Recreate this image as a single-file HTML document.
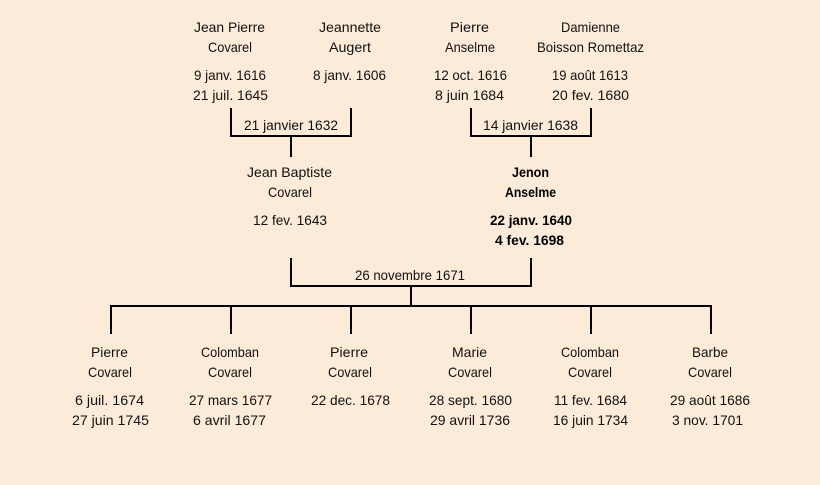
<!DOCTYPE html>
<html lang="fr">
<head>
<meta charset="utf-8">
<title>Arbre généalogique</title>
<style>
html,body{margin:0;padding:0;background:#fcebd9;width:820px;height:485px;overflow:hidden}
svg{display:block}
text{font-family:"Comic Sans MS","Comic Sans","Liberation Sans",sans-serif;font-size:14px;fill:#111}
.b{font-weight:bold;fill:#000}
path{fill:none;stroke:#000;stroke-width:2}
</style>
</head>
<body>
<svg width="820" height="485" viewBox="0 0 820 485" lengthAdjust="spacingAndGlyphs">
<path d="M231 108V136H351V108M291 136V157"/>
<path d="M471 108V136H591V108M531 136V157"/>
<path d="M291 258V286H531V258M411 286V306"/>
<path d="M111 334V306H711V334M231 306V334M351 306V334M471 306V334M591 306V334"/>

<text x="194" y="32" textLength="71" lengthAdjust="spacingAndGlyphs">Jean Pierre</text>
<text x="208" y="52" textLength="44" lengthAdjust="spacingAndGlyphs">Covarel</text>
<text x="194" y="80" textLength="72" lengthAdjust="spacingAndGlyphs">9 janv. 1616</text>
<text x="193" y="100" textLength="75" lengthAdjust="spacingAndGlyphs">21 juil. 1645</text>

<text x="319" y="32" textLength="62" lengthAdjust="spacingAndGlyphs">Jeannette</text>
<text x="329" y="52" textLength="42" lengthAdjust="spacingAndGlyphs">Augert</text>
<text x="313" y="80" textLength="73" lengthAdjust="spacingAndGlyphs">8 janv. 1606</text>

<text x="450" y="32" textLength="39" lengthAdjust="spacingAndGlyphs">Pierre</text>
<text x="445" y="52" textLength="50" lengthAdjust="spacingAndGlyphs">Anselme</text>
<text x="434" y="80" textLength="73" lengthAdjust="spacingAndGlyphs">12 oct. 1616</text>
<text x="435" y="100" textLength="69" lengthAdjust="spacingAndGlyphs">8 juin 1684</text>

<text x="561" y="32" textLength="59" lengthAdjust="spacingAndGlyphs">Damienne</text>
<text x="537" y="52" textLength="107" lengthAdjust="spacingAndGlyphs">Boisson Romettaz</text>
<text x="552" y="80" textLength="76" lengthAdjust="spacingAndGlyphs">19 août 1613</text>
<text x="552" y="100" textLength="77" lengthAdjust="spacingAndGlyphs">20 fev. 1680</text>

<text x="244" y="130" textLength="94" lengthAdjust="spacingAndGlyphs">21 janvier 1632</text>
<text x="483" y="130" textLength="95" lengthAdjust="spacingAndGlyphs">14 janvier 1638</text>

<text x="247" y="177" textLength="85" lengthAdjust="spacingAndGlyphs">Jean Baptiste</text>
<text x="268" y="197" textLength="44" lengthAdjust="spacingAndGlyphs">Covarel</text>
<text x="253" y="225" textLength="74" lengthAdjust="spacingAndGlyphs">12 fev. 1643</text>

<text class="b" x="512" y="177" textLength="37" lengthAdjust="spacingAndGlyphs">Jenon</text>
<text class="b" x="505" y="197" textLength="51" lengthAdjust="spacingAndGlyphs">Anselme</text>
<text class="b" x="490" y="225" textLength="82" lengthAdjust="spacingAndGlyphs">22 janv. 1640</text>
<text class="b" x="495" y="245" textLength="69" lengthAdjust="spacingAndGlyphs">4 fev. 1698</text>

<text x="355" y="280" textLength="110" lengthAdjust="spacingAndGlyphs">26 novembre 1671</text>

<text x="91" y="357" textLength="37" lengthAdjust="spacingAndGlyphs">Pierre</text>
<text x="88" y="377" textLength="44" lengthAdjust="spacingAndGlyphs">Covarel</text>
<text x="75" y="405" textLength="69" lengthAdjust="spacingAndGlyphs">6 juil. 1674</text>
<text x="72" y="425" textLength="77" lengthAdjust="spacingAndGlyphs">27 juin 1745</text>

<text x="201" y="357" textLength="58" lengthAdjust="spacingAndGlyphs">Colomban</text>
<text x="208" y="377" textLength="44" lengthAdjust="spacingAndGlyphs">Covarel</text>
<text x="189" y="405" textLength="83" lengthAdjust="spacingAndGlyphs">27 mars 1677</text>
<text x="193" y="425" textLength="73" lengthAdjust="spacingAndGlyphs">6 avril 1677</text>

<text x="330" y="357" textLength="38" lengthAdjust="spacingAndGlyphs">Pierre</text>
<text x="328" y="377" textLength="44" lengthAdjust="spacingAndGlyphs">Covarel</text>
<text x="311" y="405" textLength="79" lengthAdjust="spacingAndGlyphs">22 dec. 1678</text>

<text x="452" y="357" textLength="35" lengthAdjust="spacingAndGlyphs">Marie</text>
<text x="448" y="377" textLength="44" lengthAdjust="spacingAndGlyphs">Covarel</text>
<text x="429" y="405" textLength="83" lengthAdjust="spacingAndGlyphs">28 sept. 1680</text>
<text x="430" y="425" textLength="80" lengthAdjust="spacingAndGlyphs">29 avril 1736</text>

<text x="561" y="357" textLength="58" lengthAdjust="spacingAndGlyphs">Colomban</text>
<text x="568" y="377" textLength="44" lengthAdjust="spacingAndGlyphs">Covarel</text>
<text x="554" y="405" textLength="73" lengthAdjust="spacingAndGlyphs">11 fev. 1684</text>
<text x="553" y="425" textLength="75" lengthAdjust="spacingAndGlyphs">16 juin 1734</text>

<text x="692" y="357" textLength="36" lengthAdjust="spacingAndGlyphs">Barbe</text>
<text x="688" y="377" textLength="44" lengthAdjust="spacingAndGlyphs">Covarel</text>
<text x="670" y="405" textLength="80" lengthAdjust="spacingAndGlyphs">29 août 1686</text>
<text x="672" y="425" textLength="71" lengthAdjust="spacingAndGlyphs">3 nov. 1701</text>
</svg>
</body>
</html>
